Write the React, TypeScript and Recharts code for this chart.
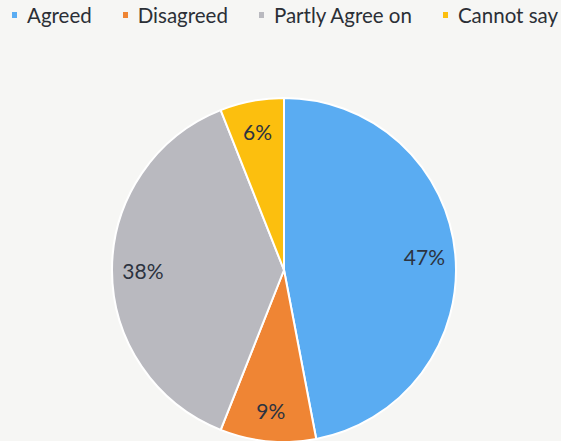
import { PieChart, Pie, Cell } from "recharts";

const categories = ["Agreed", "Disagreed", "Partly Agree on", "Cannot say"];
const shares = [47, 9, 38, 6];
const colors = ["#5aacf2", "#ef8534", "#b9b9bf", "#fcbf0e"];

const data = categories.map((name, i) => ({ name, value: shares[i] }));

const RADIAN = Math.PI / 180;
const FONT = "Lato, 'Open Sans', sans-serif";

const renderLabel = (props: any) => {
  const { cx, cy, midAngle, outerRadius, value } = props;
  const r = outerRadius * 0.82;
  const x = cx + r * Math.cos(-midAngle * RADIAN);
  const y = cy + r * Math.sin(-midAngle * RADIAN);
  return (
    <text
      x={x}
      y={y}
      fill="#2c3340"
      fontSize={21}
      fontFamily={FONT}
      textAnchor="middle"
      dominantBaseline="central"
    >
      {`${value}%`}
    </text>
  );
};

function TopLegend() {
  return (
    <div
      style={{
        position: "absolute",
        top: 3,
        left: 12,
        display: "flex",
        gap: 31,
        whiteSpace: "nowrap",
        fontFamily: FONT,
        fontSize: 20.5,
        color: "#2b2f36",
      }}
    >
      {categories.map((c, i) => (
        <div key={c} style={{ display: "flex", alignItems: "center" }}>
          <span
            style={{
              width: 5,
              height: 6,
              background: colors[i],
              display: "inline-block",
              marginRight: 10,
            }}
          />
          {c}
        </div>
      ))}
    </div>
  );
}

export default function App() {
  return (
    <div
      style={{
        position: "absolute",
        left: 0,
        top: 0,
        width: 561,
        height: 441,
        overflow: "hidden",
        background: "#f6f6f4",
      }}
    >
      <TopLegend />
      <PieChart width={561} height={441}>
        <Pie
          data={data}
          dataKey="value"
          nameKey="name"
          cx={279}
          cy={265}
          outerRadius={172}
          startAngle={90}
          endAngle={-270}
          stroke="#ffffff"
          strokeWidth={2}
          label={renderLabel}
          labelLine={false}
          isAnimationActive={false}
        >
          {data.map((d, i) => (
            <Cell key={d.name} fill={colors[i]} />
          ))}
        </Pie>
      </PieChart>
    </div>
  );
}
